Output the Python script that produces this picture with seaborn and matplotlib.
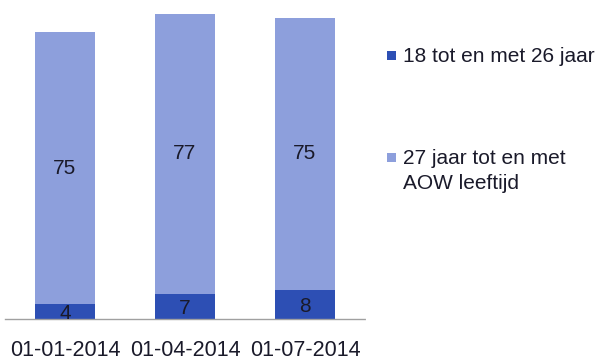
import matplotlib
matplotlib.use("Agg")
import matplotlib.pyplot as plt
import seaborn as sns
import pandas as pd
from matplotlib.patches import Rectangle

# Data
dates = ["01-01-2014", "01-04-2014", "01-07-2014"]
young = [4, 7, 8]          # 18 tot en met 26 jaar
older = [75, 77, 75]       # 27 jaar tot en met AOW leeftijd
series_names = ["18 tot en met 26 jaar", "27 jaar tot en met\nAOW leeftijd"]

dark = "#2d4fb4"
light = "#8d9fdc"
text_color = "#1a1a2a"

sns.set_theme(style="white")
plt.rcParams["font.family"] = ["Liberation Sans", "DejaVu Sans"]

df = pd.DataFrame({"datum": dates, "young": young, "older": older})
df["total"] = df["young"] + df["older"]

W, H = 600, 362
fig = plt.figure(figsize=(W / 100, H / 100), dpi=100)
ax = fig.add_axes([5 / W, 43 / H, 360 / W, 319 / H])

# Stacked bars: full height in light colour, lower segment in dark colour
sns.barplot(data=df, x="datum", y="total", color=light, width=0.5,
            saturation=1, ax=ax, linewidth=0)
sns.barplot(data=df, x="datum", y="young", color=dark, width=0.5,
            saturation=1, ax=ax, linewidth=0)

ax.set_xlim(-0.5, 2.5)
ax.set_ylim(0, 319 / 3.63)

for i, (y, o) in enumerate(zip(young, older)):
    ax.text(i, y / 2 - 0.6, str(y), ha="center", va="center",
            fontsize=15, color=text_color)
    ax.text(i, y + o / 2, str(o), ha="center", va="center",
            fontsize=15, color=text_color)

for s in ["top", "right", "left"]:
    ax.spines[s].set_visible(False)
ax.spines["bottom"].set_color("#a0a0a0")
ax.spines["bottom"].set_linestyle((0, (1, 1)))
ax.spines["bottom"].set_linewidth(1.0)
ax.set_yticks([])
ax.set_xlabel("")
ax.set_ylabel("")
ax.tick_params(axis="x", length=0, pad=15, labelsize=15.5, labelcolor=text_color)

# Legend: square marker aligned with the first line of each label
legend_rows = [(dark, series_names[0], 55), (light, series_names[1], 157)]
for color, label, yc in legend_rows:
    fig.patches.append(Rectangle((387 / W, 1 - (yc + 5) / H), 9 / W, 9 / H,
                                 transform=fig.transFigure, facecolor=color,
                                 edgecolor="none"))
    fig.text(403 / W, 1 - (yc - 8) / H, label, ha="left", va="top",
             fontsize=15, color=text_color, linespacing=1.38)

fig.savefig("out.png", dpi=100, facecolor="white")
